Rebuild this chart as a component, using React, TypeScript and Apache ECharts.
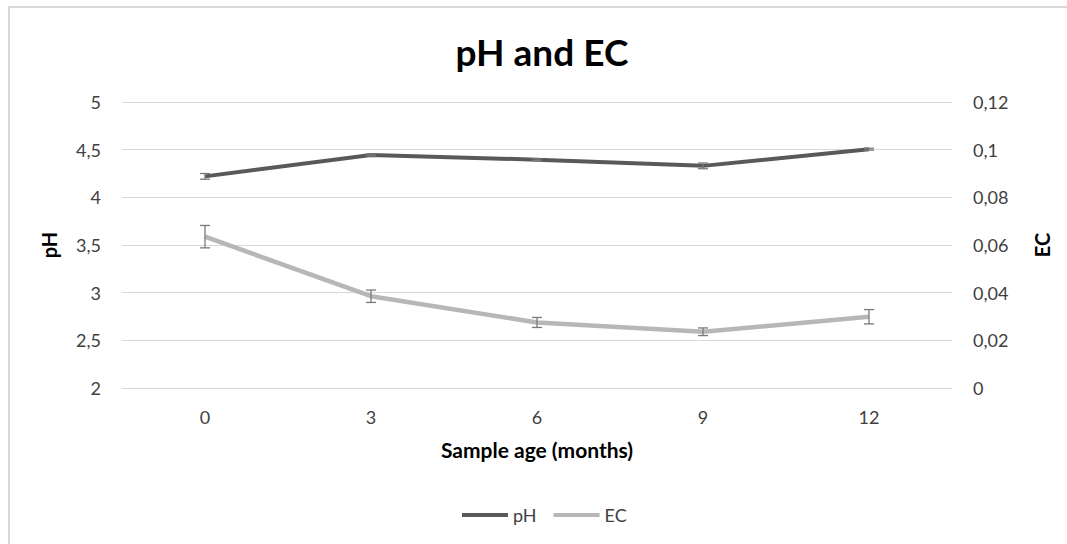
import React, { useEffect, useRef } from "react";
import * as echarts from "echarts";

const categories = ["0", "3", "6", "9", "12"];
const phValues = [4.22, 4.445, 4.395, 4.33, 4.505];
const phErrors = [0.03, 0.01, 0.01, 0.03, 0.01];
const ecValues = [0.0635, 0.0385, 0.0275, 0.0236, 0.0299];
const ecErrors = [0.0047, 0.0026, 0.0021, 0.0016, 0.003];
const leftTicks = { min: 2, max: 5, interval: 0.5 };
const rightTicks = { min: 0, max: 0.12, interval: 0.02 };

const FONT = "Lato, 'Open Sans', sans-serif";

function fmt(v: number) {
  return parseFloat(v.toFixed(4)).toString().replace(".", ",");
}

function errorSeries(values: number[], errors: number[], yAxisIndex: number) {
  return {
    type: "custom",
    yAxisIndex,
    z: 5,
    silent: true,
    data: values.map((v, i) => [i, v - errors[i], v + errors[i]]),
    renderItem: (params: any, api: any) => {
      const x = api.value(0);
      const lo = api.coord([x, api.value(1)]);
      const hi = api.coord([x, api.value(2)]);
      const w = 5;
      const style = { stroke: "#7a7a7a", lineWidth: 1.3 };
      return {
        type: "group",
        children: [
          { type: "line", shape: { x1: lo[0], y1: lo[1], x2: hi[0], y2: hi[1] }, style },
          { type: "line", shape: { x1: lo[0] - w, y1: lo[1], x2: lo[0] + w, y2: lo[1] }, style },
          { type: "line", shape: { x1: hi[0] - w, y1: hi[1], x2: hi[0] + w, y2: hi[1] }, style },
        ],
      };
    },
  };
}

export default function App() {
  const ref = useRef<HTMLDivElement>(null);
  useEffect(() => {
    if (!ref.current) return;
    const chart = echarts.init(ref.current, undefined, { renderer: "svg" });
    const axisLabel = { color: "#404040", fontSize: 18, fontFamily: FONT };
    const nameStyle = { color: "#000", fontSize: 20, fontWeight: "bold" as const, fontFamily: FONT };
    chart.setOption({
      animation: false,
      backgroundColor: "#fff",
      textStyle: { fontFamily: FONT },
      graphic: [
        {
          type: "line",
          shape: { x1: 9, y1: 7, x2: 9, y2: 544 },
          style: { stroke: "#d9d9d9", lineWidth: 2 },
          silent: true,
        },
        {
          type: "line",
          shape: { x1: 8, y1: 7, x2: 1067, y2: 7 },
          style: { stroke: "#d9d9d9", lineWidth: 2 },
          silent: true,
        },
      ],
      title: {
        text: "pH and EC",
        left: 537,
        textAlign: "center",
        top: 28,
        textStyle: { fontSize: 37, fontWeight: "bold", color: "#000", fontFamily: FONT },
      },
      legend: {
        top: 501,
        left: 457,
        icon: "rect",
        itemWidth: 46,
        itemHeight: 4,
        itemGap: 17,
        textStyle: { fontSize: 18, color: "#404040", fontFamily: FONT },
        data: ["pH", "EC"],
      },
      grid: { left: 122, right: 115, top: 102, bottom: 156 },
      xAxis: {
        type: "category",
        data: categories,
        boundaryGap: true,
        name: "Sample age (months)",
        nameLocation: "middle",
        nameGap: 51,
        nameTextStyle: { ...nameStyle, fontSize: 21 },
        axisLine: { show: true, lineStyle: { color: "#d9d9d9" } },
        axisTick: { show: false },
        axisLabel: { ...axisLabel, margin: 20 },
      },
      yAxis: [
        {
          type: "value",
          ...leftTicks,
          name: "pH",
          nameLocation: "middle",
          nameRotate: 90,
          nameGap: 63,
          nameTextStyle: nameStyle,
          axisLine: { show: false },
          axisTick: { show: false },
          axisLabel: { ...axisLabel, margin: 21, formatter: fmt },
          splitLine: { lineStyle: { color: "#d9d9d9", width: 1 } },
        },
        {
          type: "value",
          ...rightTicks,
          name: "EC",
          nameLocation: "middle",
          nameRotate: 90,
          nameGap: 80,
          nameTextStyle: nameStyle,
          axisLine: { show: false },
          axisTick: { show: false },
          axisLabel: { ...axisLabel, margin: 21, formatter: fmt },
          splitLine: { show: false },
        },
      ],
      series: [
        {
          name: "pH",
          type: "line",
          yAxisIndex: 0,
          data: phValues,
          showSymbol: false,
          symbol: "none",
          itemStyle: { color: "#595959" },
          lineStyle: { color: "#595959", width: 4 },
          z: 3,
        },
        {
          name: "EC",
          type: "line",
          yAxisIndex: 1,
          data: ecValues,
          showSymbol: false,
          symbol: "none",
          itemStyle: { color: "#b7b7b7" },
          lineStyle: { color: "#b7b7b7", width: 4.5 },
          z: 3,
        },
        errorSeries(phValues, phErrors, 0),
        errorSeries(ecValues, ecErrors, 1),
      ],
    });
    return () => chart.dispose();
  }, []);
  return (
    <div
      ref={ref}
      style={{ position: "fixed", left: 0, top: 0, width: 1067, height: 544 }}
    />
  );
}
